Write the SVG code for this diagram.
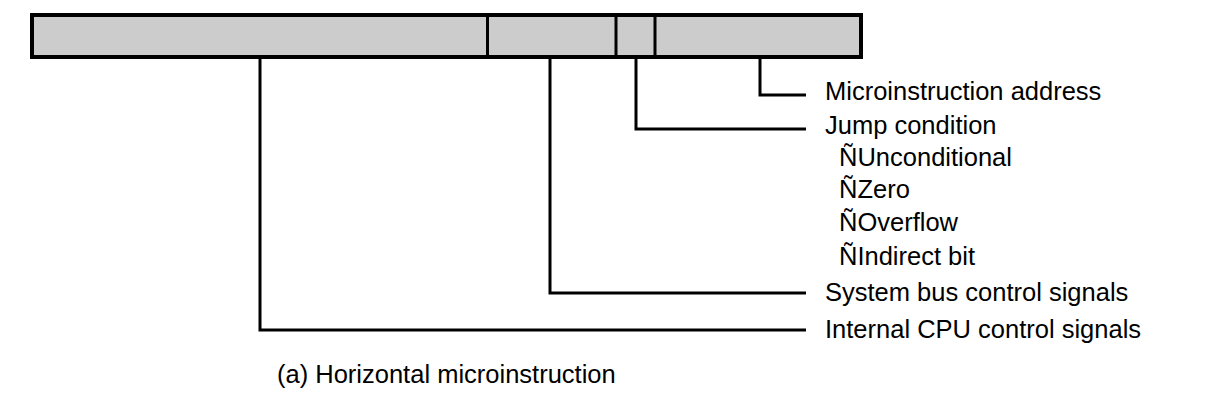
<svg xmlns="http://www.w3.org/2000/svg" width="1231" height="414" viewBox="0 0 1231 414">
<style>
text{font-family:"Liberation Sans",Arial,sans-serif;font-size:25.5px;fill:#000}
.ln{stroke:#000;stroke-width:3;fill:none}
</style>
<rect width="1231" height="414" fill="#fff"/>
<g id="microinstruction">
<rect x="32" y="15" width="829" height="42" fill="#cccccc" stroke="#000" stroke-width="4"/>
<line class="ln" x1="487.5" y1="15" x2="487.5" y2="57"/>
<line class="ln" x1="616" y1="15" x2="616" y2="57"/>
<line class="ln" x1="655" y1="15" x2="655" y2="57"/>
</g>
<g id="connectors">
<polyline class="ln" points="760,57 760,95 806,95"/>
<polyline class="ln" points="636,57 636,129 806,129"/>
<polyline class="ln" points="550,57 550,293 806,293"/>
<polyline class="ln" points="260,57 260,330 806,330"/>
</g>
<g id="labels">
<text x="825" y="100">Microinstruction address</text>
<text x="825" y="134">Jump condition</text>
<text x="839" y="166">ÑUnconditional</text>
<text x="839" y="198">ÑZero</text>
<text x="839" y="231">ÑOverflow</text>
<text x="839" y="265">ÑIndirect bit</text>
<text x="825" y="301">System bus control signals</text>
<text x="825" y="338">Internal CPU control signals</text>
</g>
<g id="caption">
<text x="277" y="383">(a) Horizontal microinstruction</text>
</g>
</svg>
